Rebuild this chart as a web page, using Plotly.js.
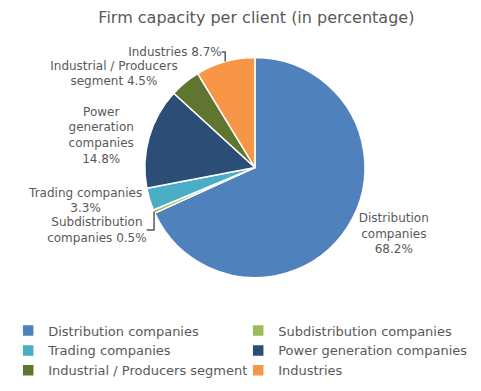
<!DOCTYPE html>
<html>
<head>
<meta charset="utf-8">
<script src="https://cdn.plot.ly/plotly-3.0.1.min.js"></script>
<style>html,body{margin:0;padding:0;background:#fff;}#chart{width:481px;height:391px;}</style>
</head>
<body>
<div id="chart"></div>
<script>
const categories = ["Distribution companies", "Subdistribution companies", "Trading companies", "Power generation companies", "Industrial / Producers segment", "Industries"];
const shares = [68.2, 0.5, 3.3, 14.8, 4.5, 8.7];
const sliceLabelNames = ["Distribution<br>companies", "Subdistribution<br>companies", "Trading companies", "Power<br>generation<br>companies", "Industrial / Producers<br>segment", "Industries"];
const sliceLabelSeparators = ["<br>", " ", "<br>", "<br>", " ", " "];
const colors = ["#4F81BD", "#9BBB59", "#4BACC6", "#2C4D75", "#5F7530", "#F79646"];

const sliceText = shares.map((v, i) => sliceLabelNames[i] + sliceLabelSeparators[i] + v.toFixed(1) + "%");

const trace = {
  type: "pie",
  labels: categories,
  values: shares,
  text: sliceText,
  textinfo: "text",
  textposition: "outside",
  sort: false,
  direction: "clockwise",
  rotation: 0,
  marker: {colors: colors, line: {color: "#ffffff", width: 1.5}},
  outsidetextfont: {family: "DejaVu Sans, Verdana, sans-serif", size: 12, color: "#595959"},
  domain: {x: [0.301, 0.759], y: [0.29, 0.853]},
  hoverinfo: "label+percent"
};

const layout = {
  width: 481, height: 391,
  margin: {l: 0, r: 0, t: 0, b: 0, autoexpand: false},
  paper_bgcolor: "#ffffff",
  font: {family: "DejaVu Sans, Verdana, sans-serif", color: "#595959"},
  title: {text: "Firm capacity per client (in percentage)", font: {family: "DejaVu Sans, Verdana, sans-serif", size: 16, color: "#595959"}, x: 0.533, xanchor: "center", y: 0.955, yanchor: "middle"},
  showlegend: true,
  legend: {
    orientation: "h",
    x: 0.017, xanchor: "left",
    y: 0.193, yanchor: "top",
    entrywidth: 185, entrywidthmode: "pixels",
    font: {family: "DejaVu Sans, Verdana, sans-serif", size: 13, color: "#595959"},
    traceorder: "normal"
  }
};

Plotly.newPlot("chart", [trace], layout, {displayModeBar: false, staticPlot: true});
</script>
</body>
</html>
